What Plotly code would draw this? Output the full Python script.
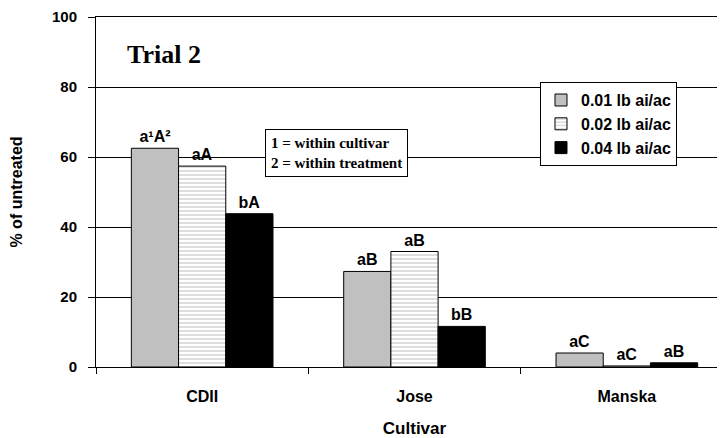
import plotly.graph_objects as go

cultivars = ["CDII", "Jose", "Manska"]
series_names = ["0.01 lb ai/ac", "0.02 lb ai/ac", "0.04 lb ai/ac"]
v001 = [62.5, 27.3, 4.0]
v002 = [57.4, 33.0, 0.3]
v004 = [43.8, 11.6, 1.2]
lab001 = ["a¹A²", "aB", "aC"]
lab002 = ["aA", "aB", "aC"]
lab004 = ["bA", "bB", "aB"]
y_ticks = [0, 20, 40, 60, 80, 100]

FONT = "Liberation Sans, Arial, sans-serif"
SERIF = "Liberation Serif, Times New Roman, serif"

fig = go.Figure()
styles = [
    dict(color="#C0C0C0", line=dict(color="black", width=1)),
    dict(color="white", line=dict(color="black", width=1),
         pattern=dict(shape="-", fgcolor="#A0A0A0", bgcolor="white", size=4, solidity=0.35)),
    dict(color="black", line=dict(color="black", width=1)),
]
for name, vals, labs, st in zip(series_names, [v001, v002, v004], [lab001, lab002, lab004], styles):
    fig.add_trace(go.Bar(
        x=cultivars, y=vals, name=name, marker=st,
        text=labs, textposition="outside", cliponaxis=False,
        textfont=dict(family=FONT, size=16, color="black", weight="bold"),
    ))

fig.update_layout(
    width=725, height=438,
    margin=dict(l=88, r=0, t=9, b=79, autoexpand=False),
    paper_bgcolor="white", plot_bgcolor="white",
    barmode="group", bargap=0.333, bargroupgap=0,
    font=dict(family=FONT, size=15, color="black", weight="bold"),
    showlegend=True,
    legend=dict(x=0.697, y=0.814, xanchor="left", yanchor="top",
                bgcolor="white", bordercolor="black", borderwidth=1,
                font=dict(family=FONT, size=16, color="black", weight="bold"),
                tracegroupgap=0, itemwidth=30),
    annotations=[
        dict(text="Trial 2", x=0.045, y=0.894, xref="paper", yref="paper",
             xanchor="left", yanchor="middle", showarrow=False,
             font=dict(family=SERIF, size=26, color="black", weight="bold")),
        dict(text="1 = within cultivar<br>2 = within treatment", x=0.265, y=0.68,
             xref="paper", yref="paper", xanchor="left", yanchor="top", align="left",
             showarrow=False, bgcolor="white", bordercolor="black", borderwidth=1,
             borderpad=5,
             font=dict(family=SERIF, size=15, color="black", weight="bold")),
    ],
)
fig.update_xaxes(
    range=[-0.5, 2.5], showline=True, mirror=True, linecolor="black", linewidth=1,
    ticks="outside", tickson="boundaries", ticklen=6, tickcolor="black",
    showgrid=False, tickfont=dict(family=FONT, size=16, weight="bold"),
    ticklabelstandoff=15, automargin=False,
    title=dict(text="Cultivar", font=dict(family=FONT, size=17, weight="bold"), standoff=17),
)
fig.update_yaxes(
    range=[0, 100], tickvals=y_ticks, showline=True, linecolor="black", linewidth=1,
    ticks="outside", ticklen=7, tickcolor="black", ticklabelstandoff=8,
    ticklabeloverflow="allow",
    showgrid=True, gridcolor="black", gridwidth=1, zeroline=False, automargin=False,
    tickfont=dict(family=FONT, size=15, weight="bold"),
    title=dict(text="% of untreated", font=dict(family=FONT, size=16, weight="bold"), standoff=26),
)

fig.write_html("out.html")
